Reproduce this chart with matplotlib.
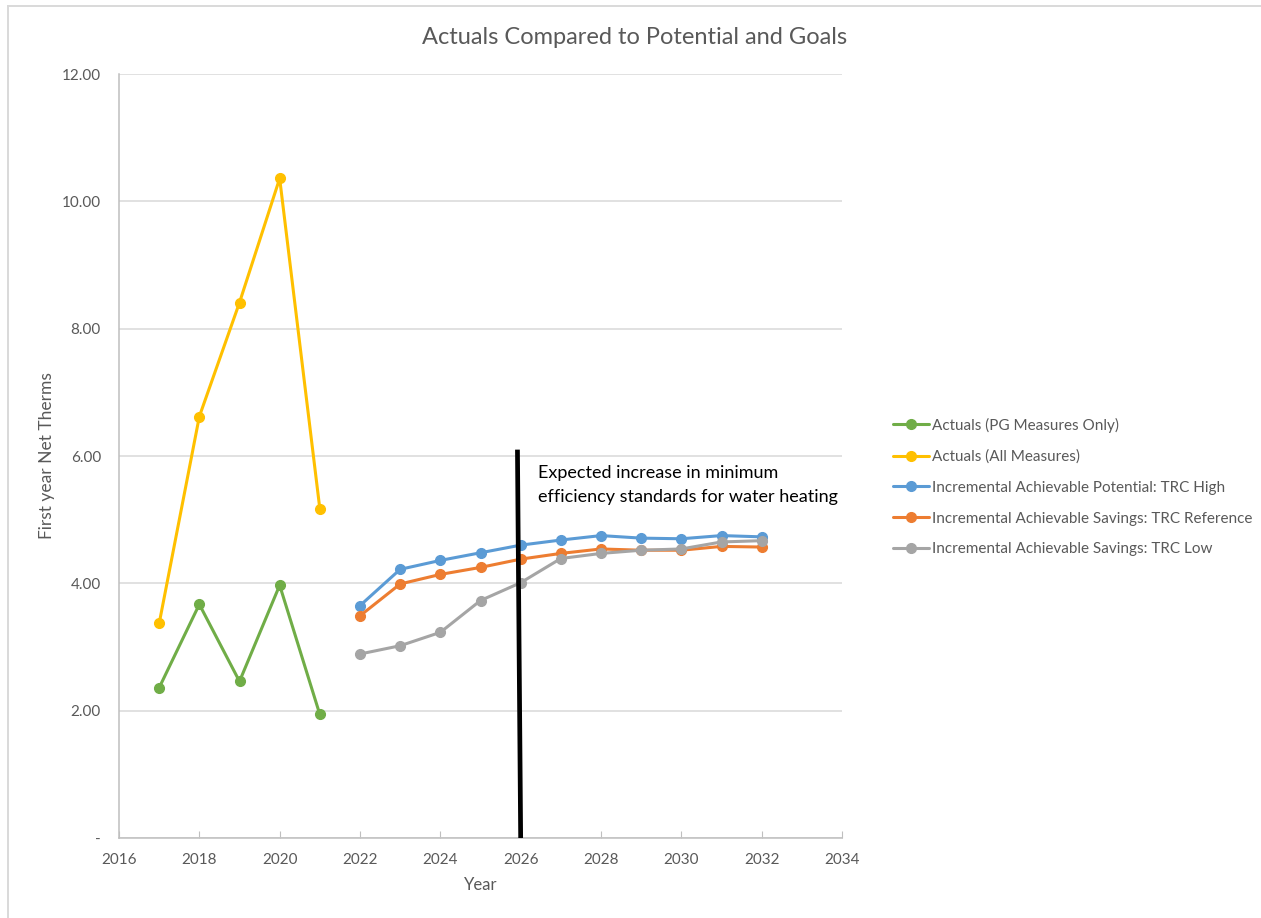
import matplotlib.pyplot as plt
from matplotlib.lines import Line2D
from matplotlib.ticker import FuncFormatter

plt.rcParams['font.family'] = ['Lato', 'DejaVu Sans']

# actuals by program year
actual_years = [2017, 2018, 2019, 2020, 2021]
actuals_pg = [2.36, 3.67, 2.46, 3.97, 1.94]
actuals_all = [3.37, 6.62, 8.41, 10.36, 5.17]

# potential study forecasts
forecast_years = list(range(2022, 2033))
trc_high = [3.65, 4.22, 4.36, 4.48, 4.60, 4.68, 4.75, 4.71, 4.70, 4.75, 4.73]
trc_reference = [3.49, 3.99, 4.14, 4.25, 4.38, 4.47, 4.54, 4.52, 4.52, 4.58, 4.57]
trc_low = [2.89, 3.02, 3.23, 3.73, 4.01, 4.39, 4.47, 4.52, 4.54, 4.65, 4.67]

series = [
    (actual_years, actuals_pg, '#70AD47', 'Actuals (PG Measures Only)'),
    (actual_years, actuals_all, '#FFC000', 'Actuals (All Measures)'),
    (forecast_years, trc_high, '#5B9BD5', 'Incremental Achievable Potential: TRC High'),
    (forecast_years, trc_reference, '#ED7D31', 'Incremental Achievable Savings: TRC Reference'),
    (forecast_years, trc_low, '#A5A5A5', 'Incremental Achievable Savings: TRC Low'),
]

standards_year = 2026
standards_note = 'Expected increase in minimum\nefficiency standards for water heating'

fig = plt.figure(figsize=(12.61, 9.18), dpi=100)
ax = fig.add_axes([119 / 1261, 1 - 838 / 918, (842 - 119) / 1261, (838 - 74) / 918])

for xs, ys, color, label in series:
    ax.plot(xs, ys, color=color, lw=2.2, marker='o', ms=7, label=label,
            solid_capstyle='round', zorder=3)

# standards marker line and note
ax.plot([standards_year, standards_year - 0.08], [0, 6.1], color='black', lw=3.4,
        solid_capstyle='butt', zorder=4)
ax.text(standards_year + 0.42, 5.86, standards_note, fontsize=13, color='black',
        va='top', ha='left', linespacing=1.6)

ax.set_xlim(2016, 2034)
ax.set_ylim(0, 12)
ax.set_xticks(range(2016, 2035, 2))
ax.set_yticks(range(0, 13, 2))
ax.yaxis.set_major_formatter(FuncFormatter(lambda v, p: '-' if v == 0 else f'{v:.2f}'))

ax.grid(axis='y', color='#D9D9D9', lw=1.1)
ax.set_axisbelow(True)
for side in ['top', 'right']:
    ax.spines[side].set_visible(False)
for side in ['left', 'bottom']:
    ax.spines[side].set_color('#BFBFBF')
    ax.spines[side].set_linewidth(1.1)

ax.tick_params(axis='x', direction='in', length=5, color='#BFBFBF', labelsize=11,
               labelcolor='#595959', pad=11)
ax.tick_params(axis='y', length=0, labelsize=11, labelcolor='#595959', pad=13)

ax.set_xlabel('Year', fontsize=12, color='#595959', labelpad=7)
ax.set_ylabel('First year Net Therms', fontsize=12.5, color='#595959', labelpad=5)
fig.text(635 / 1261, 1 - 37 / 918, 'Actuals Compared to Potential and Goals',
         fontsize=17, color='#595959', ha='center', va='center')

ax.legend(loc='center left', bbox_to_anchor=(879 / 1261, 1 - 487 / 918),
          bbox_transform=fig.transFigure, frameon=False, fontsize=11,
          labelcolor='#595959', handlelength=2.4, handletextpad=0.2,
          labelspacing=1.1)

# chart frame (only top and left edges fall inside the image)
fig.add_artist(Line2D([8 / 1261, 8 / 1261], [0, 1 - 6 / 918], color='#D9D9D9',
                      lw=1.4, transform=fig.transFigure))
fig.add_artist(Line2D([8 / 1261, 1], [1 - 6 / 918, 1 - 6 / 918], color='#D9D9D9',
                      lw=1.4, transform=fig.transFigure))

fig.savefig('out.png', dpi=100)
